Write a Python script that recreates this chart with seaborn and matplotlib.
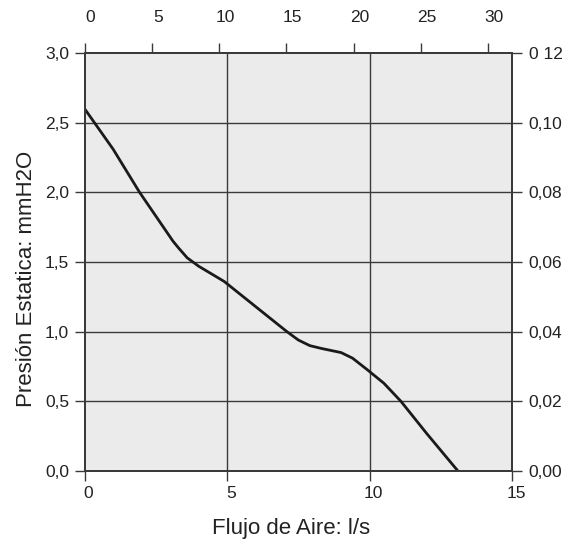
import matplotlib
matplotlib.use("Agg")
import matplotlib.pyplot as plt
import matplotlib.transforms as mtransforms
import seaborn as sns
import pandas as pd
from matplotlib.ticker import FuncFormatter

# curva del ventilador
flujo_ls = [0.0, 1.0, 1.93, 3.1, 3.3, 3.6, 4.0, 4.9, 6.0, 7.1, 7.5, 7.9, 8.3, 9.0, 9.4, 9.9, 10.5, 11.1, 12.0, 13.1]
presion_mm = [2.6, 2.31, 2.0, 1.65, 1.6, 1.53, 1.47, 1.36, 1.18, 1.0, 0.94, 0.90, 0.88, 0.85, 0.81, 0.73, 0.63, 0.5, 0.27, 0.0]

x_ticks = [0, 5, 10, 15]
y_ticks = [0.0, 0.5, 1.0, 1.5, 2.0, 2.5, 3.0]
top_ticks = [0, 5, 10, 15, 20, 25, 30]
right_ticks = [0.00, 0.02, 0.04, 0.06, 0.08, 0.10, 0.12]
right_labels = ["0,00", "0,02", "0,04", "0,06", "0,08", "0,10", "0 12"]

df = pd.DataFrame({"flujo": flujo_ls, "presion": presion_mm})

sns.set_style("white")
plt.rcParams["font.family"] = ["Liberation Sans", "DejaVu Sans"]

fig = plt.figure(figsize=(5.71, 5.39), dpi=100)
ax = fig.add_axes([0.148, 0.126, 0.749, 0.776])
ax.set_facecolor("#ebebeb")

grid_col = "#3a3a3a"
for v in [5, 10]:
    ax.axvline(v, color=grid_col, lw=1.0, zorder=1)
for v in [0.5, 1.0, 1.5, 2.0, 2.5]:
    ax.axhline(v, color=grid_col, lw=1.0, zorder=1)

sns.lineplot(data=df, x="flujo", y="presion", ax=ax, color="#1a1a1a", lw=2.0, zorder=3)

ax.set_xlim(0, 15)
ax.set_ylim(0, 3.0)
ax.set_xticks(x_ticks)
ax.set_yticks(y_ticks)
comma = FuncFormatter(lambda v, p: f"{v:.1f}".replace(".", ","))
ax.yaxis.set_major_formatter(comma)
ax.xaxis.set_major_formatter(FuncFormatter(lambda v, p: f"{v:.0f}"))
ax.set_xlabel("Flujo de Aire: l/s", fontsize=16, color="#222222", va="center")
ax.set_ylabel("Presión Estatica: mmH2O", fontsize=16, color="#222222", va="center")
ax.xaxis.set_label_coords(0.483, -0.137)
ax.yaxis.set_label_coords(-0.136, 0.46)
ax.tick_params(axis="both", direction="out", length=7, width=1.0, color=grid_col,
               labelsize=12.5, labelcolor="#222222", pad=4, left=True, bottom=True)

for s in ax.spines.values():
    s.set_color(grid_col)
    s.set_linewidth(1.2)

# eje superior (CFM)
ax_top = ax.twiny()
ax_top.set_xlim(0, 15 * 2.119)
ax_top.set_xticks(top_ticks)
ax_top.tick_params(axis="x", direction="out", length=7, width=1.0, color=grid_col,
                   labelsize=12.5, labelcolor="#222222", pad=13, top=True)
ax_top.set_xlabel("")

# eje derecho (inH2O)
ax_r = ax.twinx()
ax_r.set_ylim(0, 0.12)
ax_r.set_yticks(right_ticks)
ax_r.set_yticklabels(right_labels)
ax_r.tick_params(axis="y", direction="out", length=7, width=1.0, color=grid_col,
                 labelsize=12.5, labelcolor="#222222", pad=5, right=True)
ax_r.set_ylabel("")

for a in (ax_top, ax_r):
    for s in a.spines.values():
        s.set_color(grid_col)
        s.set_linewidth(1.2)

# etiquetas horizontales algo desplazadas a la derecha, como en el original
shift_bot = mtransforms.ScaledTranslation(4 / 100, 0, fig.dpi_scale_trans)
for lab in ax.get_xticklabels():
    lab.set_transform(lab.get_transform() + shift_bot)
shift_top = mtransforms.ScaledTranslation(6 / 100, 0, fig.dpi_scale_trans)
for lab in ax_top.get_xticklabels():
    lab.set_transform(lab.get_transform() + shift_top)

fig.savefig("out.png", dpi=100, facecolor="white")
